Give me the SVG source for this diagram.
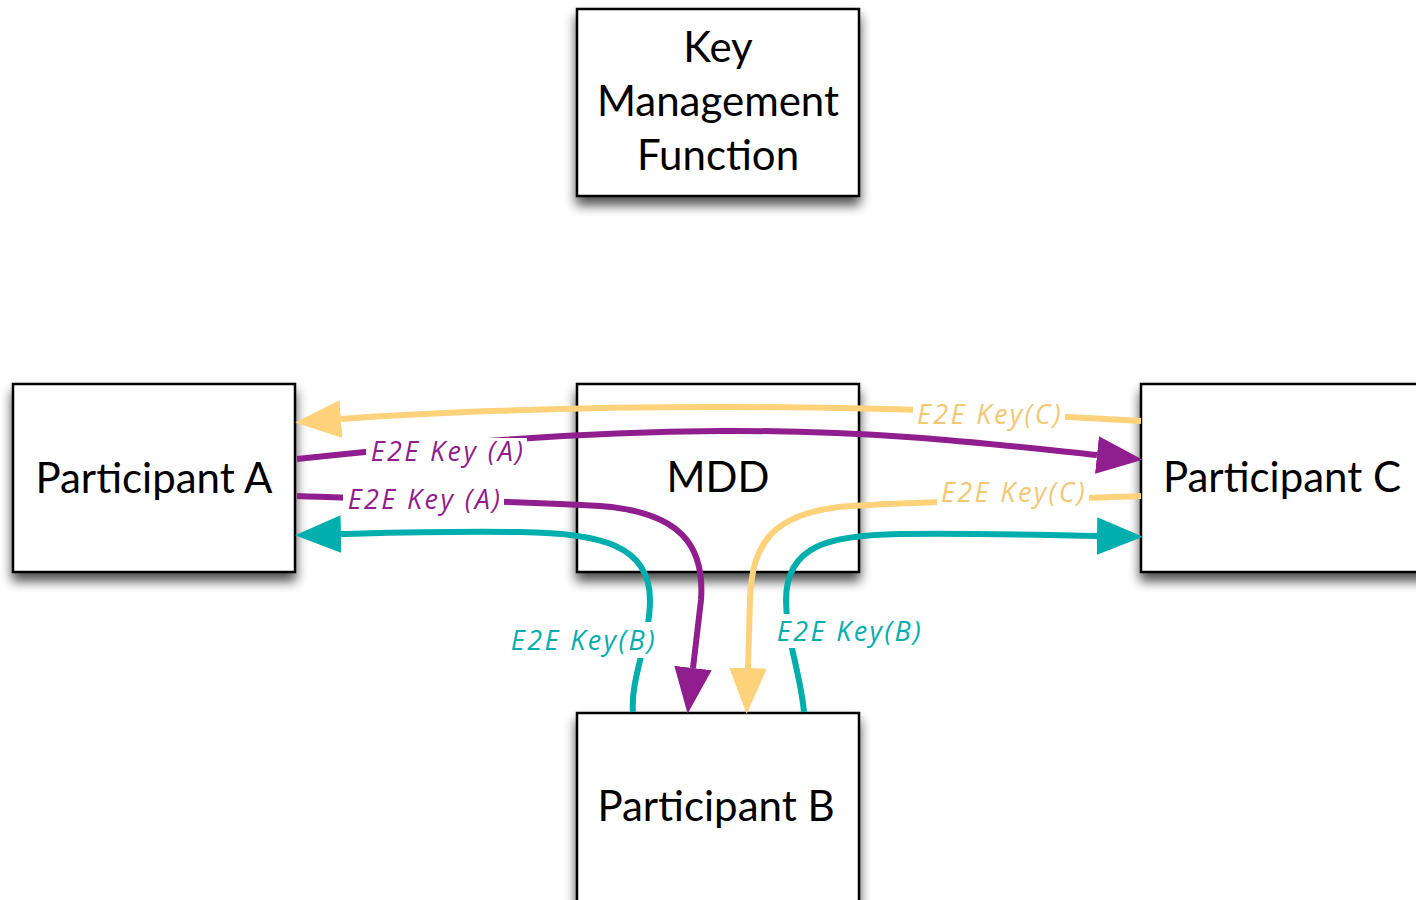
<svg xmlns="http://www.w3.org/2000/svg" width="1416" height="900" viewBox="0 0 1416 900">
  <defs>
    <filter id="shadow" x="-20%" y="-20%" width="140%" height="150%">
      <feGaussianBlur in="SourceAlpha" stdDeviation="6"/>
      <feOffset dx="0" dy="8" result="b"/>
      <feComponentTransfer><feFuncA type="linear" slope="0.7"/></feComponentTransfer>
      <feMerge><feMergeNode/><feMergeNode in="SourceGraphic"/></feMerge>
    </filter>
    <marker id="ah-yellow" markerUnits="userSpaceOnUse" markerWidth="46" markerHeight="38" refX="0" refY="18" orient="auto" viewBox="0 0 44 36">
      <path d="M0,0 L44,18 L0,36 z" fill="#FED27A"/>
    </marker>
    <marker id="ah-purple" markerUnits="userSpaceOnUse" markerWidth="46" markerHeight="38" refX="0" refY="18" orient="auto" viewBox="0 0 44 36">
      <path d="M0,0 L44,18 L0,36 z" fill="#901E8E"/>
    </marker>
    <marker id="ah-teal" markerUnits="userSpaceOnUse" markerWidth="46" markerHeight="38" refX="0" refY="18" orient="auto" viewBox="0 0 44 36">
      <path d="M0,0 L44,18 L0,36 z" fill="#00AEAD"/>
    </marker>
  </defs>
  <style>
    .box { fill: #ffffff; stroke: #000000; stroke-width: 2.5; }
    .node text { font-family: Lato, "Open Sans", sans-serif; font-size: 42px; fill: #000000; text-anchor: middle; }
    .edge { fill: none; stroke-width: 6; }
    .yellow { stroke: #FED27A; }
    .purple { stroke: #901E8E; }
    .teal { stroke: #00AEAD; }
    .lbl-bg { fill: #ffffff; }
    .lbl { font-family: "Open Sans", Lato, sans-serif; font-style: italic; font-size: 27px; letter-spacing: 2.4px; text-anchor: middle; }
  </style>

  <g id="kmf" class="node">
    <rect class="box" x="577" y="9" width="282" height="187" filter="url(#shadow)"/>
    <text x="718" y="62">Key</text>
    <text x="718" y="116">Management</text>
    <text x="718" y="170">Function</text>
  </g>

  <g id="mdd" class="node">
    <rect class="box" x="577" y="384" width="282" height="188" filter="url(#shadow)"/>
    <text x="718" y="492">MDD</text>
  </g>

  <g id="participant-a" class="node">
    <rect class="box" x="13" y="384" width="282" height="188" filter="url(#shadow)"/>
    <text x="154" y="493">Participant A</text>
  </g>

  <g id="participant-c" class="node">
    <rect class="box" x="1141" y="384" width="300" height="188" filter="url(#shadow)"/>
    <text x="1282" y="492">Participant C</text>
  </g>

  <g id="participant-b" class="node">
    <rect class="box" x="577" y="713" width="282" height="200" filter="url(#shadow)"/>
    <text x="716" y="821">Participant B</text>
  </g>

  <g id="connectors">
    <!-- C to A, top -->
    <path class="edge yellow" d="M1141,421 C1000,413 900,407 720,407 C560,407 420,413 341,419" marker-end="url(#ah-yellow)"/>
    <!-- A to C, top -->
    <path class="edge purple" d="M297,459 C420,446 560,432 720,431 C880,430 1000,445 1097,455" marker-end="url(#ah-purple)"/>
    <!-- A to B -->
    <path class="edge purple" d="M297,496 C400,500 500,500 600,506 C680,512 705,545 701,600 L693,668" marker-end="url(#ah-purple)"/>
    <!-- B to A -->
    <path class="edge teal" d="M633,712 C630,680 650,640 650,600 C650,545 600,533 520,532 C440,531 380,533 341,534" marker-end="url(#ah-teal)"/>
    <!-- C to B -->
    <path class="edge yellow" d="M1141,496 C1050,500 950,500 850,506 C770,512 752,545 750,600 L748,668" marker-end="url(#ah-yellow)"/>
    <!-- B to C -->
    <path class="edge teal" d="M804,712 C800,670 786,640 786,600 C786,545 830,535 900,534 C980,533 1040,535 1097,536" marker-end="url(#ah-teal)"/>

    <!-- labels -->
    <rect class="lbl-bg" x="913" y="402" width="152" height="28"/>
    <text class="lbl" x="990" y="424" fill="#F2C873">E2E Key(C)</text>
    <rect class="lbl-bg" x="366" y="438" width="161" height="30"/>
    <text class="lbl" x="448" y="461" fill="#901E8E">E2E Key (A)</text>
    <rect class="lbl-bg" x="343" y="486" width="161" height="30"/>
    <text class="lbl" x="425" y="509" fill="#901E8E">E2E Key (A)</text>
    <rect class="lbl-bg" x="937" y="480" width="152" height="30"/>
    <text class="lbl" x="1014" y="502" fill="#F2C873">E2E Key(C)</text>
    <rect class="lbl-bg" x="508" y="622" width="150" height="36"/>
    <text class="lbl" x="584" y="650" fill="#00AEAD">E2E Key(B)</text>
    <rect class="lbl-bg" x="774" y="614" width="150" height="34"/>
    <text class="lbl" x="850" y="641" fill="#00AEAD">E2E Key(B)</text>
  </g>
</svg>
